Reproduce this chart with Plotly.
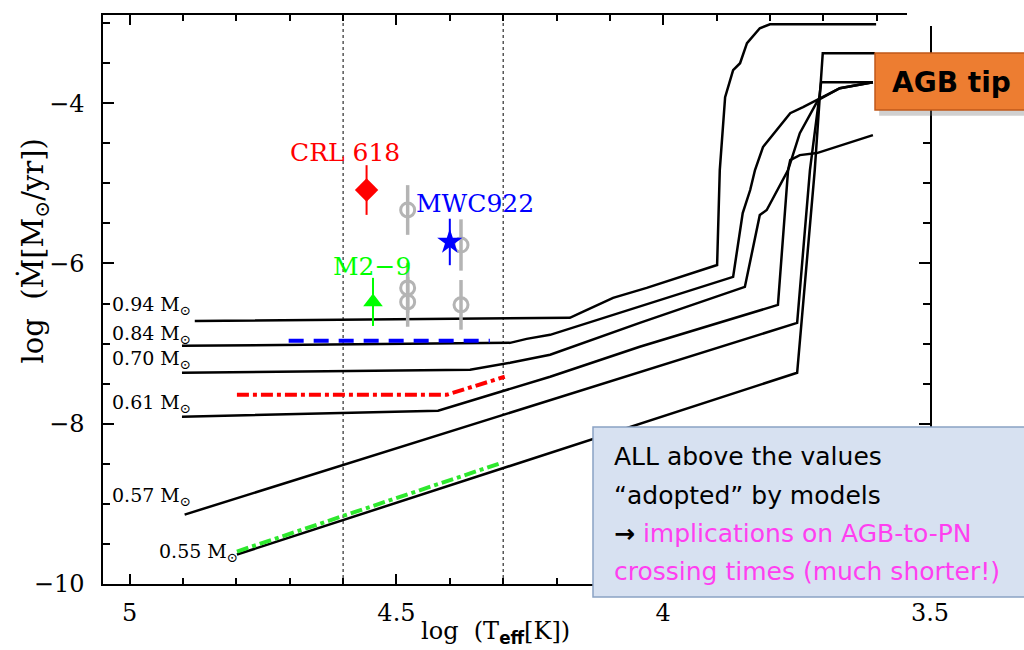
import plotly.graph_objects as go

# ---------------- data (log Teff, log Mdot) ----------------
track_labels = ["0.94 M<sub>⊙</sub>", "0.84 M<sub>⊙</sub>", "0.70 M<sub>⊙</sub>",
                "0.61 M<sub>⊙</sub>", "0.57 M<sub>⊙</sub>", "0.55 M<sub>⊙</sub>"]

t094_T = [4.878, 4.175, 4.151, 4.094, 4.031, 3.969, 3.899, 3.894, 3.890, 3.884, 3.869, 3.856, 3.843, 3.819, 3.800, 3.601]
t094_M = [-6.717, -6.679, -6.604, -6.430, -6.305, -6.168, -6.019, -4.835, -4.424, -3.925, -3.589, -3.502, -3.252, -3.065, -3.016, -3.016]

t084_T = [4.902, 4.287, 4.256, 4.212, 3.869, 3.851, 3.837, 3.828, 3.813, 3.787, 3.762, 3.738, 3.706, 3.669, 3.607]
t084_M = [-7.028, -6.991, -6.941, -6.891, -6.168, -5.371, -5.084, -4.835, -4.548, -4.336, -4.125, -4.050, -3.938, -3.813, -3.738]

t070_T = [4.902, 4.362, 4.287, 4.212, 4.044, 3.847, 3.819, 3.806, 3.766, 3.744, 3.710, 3.669, 3.607]
t070_M = [-7.364, -7.327, -7.240, -7.140, -6.741, -6.293, -5.396, -5.333, -4.835, -4.374, -3.963, -3.813, -3.738]

t061_T = [4.902, 4.422, 4.212, 4.044, 3.785, 3.766, 3.762, 3.744, 3.712, 3.607]
t061_M = [-7.913, -7.838, -7.414, -7.040, -6.517, -4.835, -4.710, -4.648, -4.623, -4.399]

t057_T = [4.897, 4.212, 3.749, 3.725, 3.704, 3.607]
t057_M = [-9.134, -7.701, -6.741, -4.835, -3.738, -3.738]

t055_T = [4.799, 3.749, 3.716, 3.701, 3.603]
t055_M = [-9.632, -7.364, -4.835, -3.377, -3.377]

# label anchor positions (left edge) for track labels
lab_T = [5.0375, 5.0375, 5.0375, 5.0375, 5.0375, 4.949]
lab_M = [-6.52, -6.89, -7.20, -7.75, -8.91, -9.61]

# adopted model mass-loss (coloured lines)
green_T = [4.799, 4.302]
green_M = [-9.595, -8.486]
red_T = [4.799, 4.406, 4.297]
red_M = [-7.639, -7.639, -7.414]
blue_T = [4.702, 4.325]
blue_M = [-6.966, -6.966]

# observed objects
crl_T, crl_M, crl_err = [4.556], [-5.084], [0.31]
m29_T, m29_M, m29_err = [4.544], [-6.480], [0.30]
mwc_T, mwc_M, mwc_err = [4.400], [-5.732], [0.29]
gray_T = [4.479, 4.479, 4.479, 4.379, 4.379]
gray_M = [-5.333, -6.305, -6.480, -5.770, -6.517]
gray_err = [0.31, 0.31, 0.31, 0.32, 0.31]

vlines_T = [4.6, 4.3]

x_tickvals = [5, 4.5, 4, 3.5]
x_ticktext = ["5", "4.5", "4", "3.5"]
y_tickvals = [-10, -8, -6, -4]

SERIF = "DejaVu Serif"
fig = go.Figure()

tracks = [(t094_T, t094_M), (t084_T, t084_M), (t070_T, t070_M),
          (t061_T, t061_M), (t057_T, t057_M), (t055_T, t055_M)]
for (tx, ty) in tracks:
    fig.add_trace(go.Scatter(x=tx, y=ty, mode="lines",
                             line=dict(color="black", width=2.5), hoverinfo="skip"))

fig.add_trace(go.Scatter(x=green_T, y=green_M, mode="lines",
                         line=dict(color="#2ee82e", width=4, dash="12px,4px,4px,4px")))
fig.add_trace(go.Scatter(x=red_T, y=red_M, mode="lines",
                         line=dict(color="#ff0000", width=4, dash="12px,4px,4px,4px")))
fig.add_trace(go.Scatter(x=blue_T, y=blue_M, mode="lines",
                         line=dict(color="#0000ff", width=4, dash="15px,10px")))

fig.add_trace(go.Scatter(x=gray_T, y=gray_M, mode="markers",
                         marker=dict(symbol="circle-open", size=14, color="#b4b4b4",
                                     line=dict(width=3, color="#b4b4b4")),
                         error_y=dict(type="data", array=gray_err, color="#b4b4b4",
                                      thickness=3.5, width=0)))
fig.add_trace(go.Scatter(x=crl_T, y=crl_M, mode="markers",
                         marker=dict(symbol="diamond", size=18, color="#ff0000"),
                         error_y=dict(type="data", array=crl_err, color="#ff0000",
                                      thickness=2, width=0)))
fig.add_trace(go.Scatter(x=m29_T, y=m29_M, mode="markers",
                         marker=dict(symbol="triangle-up", size=17, color="#00ff00"),
                         error_y=dict(type="data", array=m29_err, color="#00ff00",
                                      thickness=2, width=0)))
fig.add_trace(go.Scatter(x=mwc_T, y=mwc_M, mode="markers",
                         marker=dict(symbol="star", size=19, color="#0000ff"),
                         error_y=dict(type="data", array=mwc_err, color="#0000ff",
                                      thickness=2, width=0)))

for v in vlines_T:
    fig.add_shape(type="line", xref="x", yref="paper", x0=v, x1=v, y0=0, y1=1,
                  line=dict(color="black", width=1, dash="dot"), layer="below")

annos = []
for lbl, lx, ly in zip(track_labels, lab_T, lab_M):
    annos.append(dict(x=lx, y=ly, xref="x", yref="y", text=lbl, showarrow=False,
                      xanchor="left", yanchor="middle",
                      font=dict(family=SERIF, size=19, color="black")))

annos.append(dict(x=4.597, y=-4.62, text="CRL 618", showarrow=False,
                  font=dict(family=SERIF, size=25, color="#ff0000")))
annos.append(dict(x=4.546, y=-6.04, text="M2−9", showarrow=False,
                  font=dict(family=SERIF, size=25, color="#00ff00")))
annos.append(dict(x=4.353, y=-5.25, text="MWC922", showarrow=False,
                  font=dict(family=SERIF, size=25, color="#0000ff")))

# axis titles
annos.append(dict(x=-0.083, y=0.585, xref="paper", yref="paper", xanchor="center", yanchor="middle",
                  text="log  (Ṁ[M<sub>⊙</sub>/yr])", showarrow=False, textangle=-90,
                  font=dict(family=SERIF, size=29, color="black")))
annos.append(dict(x=0.475, y=-0.085, xref="paper", yref="paper",
                  text="log  (T<sub><b><span style='font-family:DejaVu Sans'>eff</span></b></sub>[K])",
                  showarrow=False, yanchor="middle",
                  font=dict(family=SERIF, size=24, color="black")))

# overlay boxes
fig.add_shape(type="rect", xref="paper", yref="paper", x0=0.9722, x1=1.15, y0=0.9807, y1=1.05,
              fillcolor="white", line=dict(width=0), layer="above")
fig.add_shape(type="rect", xref="paper", yref="paper", x0=0.5925, x1=1.15, y0=-0.0228, y1=0.2759,
              fillcolor="#d7e1f1", line=dict(color="#8aa2c4", width=1.5), layer="above")
fig.add_shape(type="rect", xref="paper", yref="paper", x0=0.9385, x1=1.15, y0=0.823, y1=0.925,
              fillcolor="rgba(120,120,120,0.35)", line=dict(width=0), layer="above")
fig.add_shape(type="rect", xref="paper", yref="paper", x0=0.9335, x1=1.15, y0=0.833, y1=0.9332,
              fillcolor="#ed7d31", line=dict(color="#c0581a", width=1.5), layer="above")

BOXF = "DejaVu Sans"
MAG = "#ff3ff0"
box_lines = ["ALL above the values",
             "“adopted” by models",
             "<b>→</b> <span style='color:%s'>implications on AGB-to-PN</span>" % MAG,
             "<span style='color:%s'>crossing times (much shorter!)</span>" % MAG]
box_y = [0.2232, 0.1547, 0.0896, 0.0211]
for t, yy in zip(box_lines, box_y):
    annos.append(dict(x=0.6155, y=yy, xref="paper", yref="paper", text=t, showarrow=False,
                      xanchor="left", yanchor="middle",
                      font=dict(family=BOXF, size=25, color="black")))
annos.append(dict(x=1.0254, y=0.8822, xref="paper", yref="paper", text="<b>AGB tip</b>",
                  showarrow=False, xanchor="center", yanchor="middle",
                  font=dict(family=BOXF, size=28, color="black")))

fig.update_layout(
    width=1024, height=650,
    margin=dict(l=103, r=94, t=15, b=66),
    paper_bgcolor="white", plot_bgcolor="white",
    showlegend=False,
    annotations=annos,
    xaxis=dict(range=[5.05, 3.5], tickvals=x_tickvals, ticktext=x_ticktext,
               ticks="inside", ticklen=10, tickwidth=1.5, tickcolor="black",
               minor=dict(dtick=0.1, tick0=5, ticks="inside", ticklen=6, tickwidth=1.5, tickcolor="black"),
               showline=True, linecolor="black", linewidth=1.5, mirror="ticks",
               showgrid=False, zeroline=False,
               tickfont=dict(family=SERIF, size=24, color="black"), ticklabelstandoff=6),
    yaxis=dict(range=[-10, -2.9], tickvals=y_tickvals,
               ticks="inside", ticklen=11, tickwidth=1.5, tickcolor="black",
               minor=dict(dtick=0.5, tick0=-10, ticks="inside", ticklen=7, tickwidth=1.5, tickcolor="black"),
               showline=True, linecolor="black", linewidth=1.5, mirror="ticks",
               showgrid=False, zeroline=False,
               tickfont=dict(family=SERIF, size=24, color="black"), ticklabelstandoff=12),
)

# remove the default page margin so the figure fills the 1024x650 window exactly
fig.write_html("out.html", config={"displayModeBar": False},
               post_script="document.body.style.margin='0';document.body.style.overflow='hidden';")
